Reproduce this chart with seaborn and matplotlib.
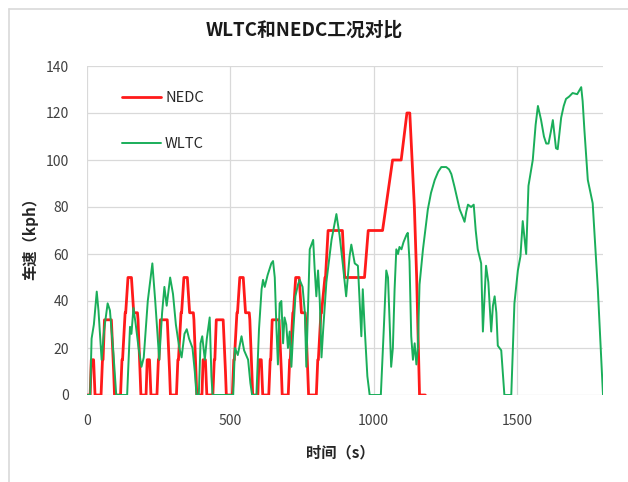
import numpy as np
import pandas as pd
import seaborn as sns
import matplotlib.pyplot as plt
from matplotlib.lines import Line2D

# NEDC: 4 x ECE-15 urban cycles + EUDC, breakpoints (s, km/h)
nedc_t = [
    0, 11, 15, 23, 28, 49, 54, 56, 61, 85, 93, 96, 117, 122, 124, 133, 135, 143, 155, 163, 176, 178, 185, 188,
    195, 206, 210, 218, 223, 244, 249, 251, 256, 280, 288, 291, 312, 317, 319, 328, 330, 338, 350, 358, 371, 373, 380, 383,
    390, 401, 405, 413, 418, 439, 444, 446, 451, 475, 483, 486, 507, 512, 514, 523, 525, 533, 545, 553, 566, 568, 575, 578,
    585, 596, 600, 608, 613, 634, 639, 641, 646, 670, 678, 681, 702, 707, 709, 718, 720, 728, 740, 748, 761, 763, 770, 773,
    780, 800, 805, 807, 816, 818, 830, 832, 841, 891, 899, 968, 981, 1031, 1066, 1096, 1116, 1126, 1142, 1150, 1160, 1180,
]
nedc_v = [
    0, 0, 15, 15, 0, 0, 15, 15, 32, 32, 10, 0, 0, 15, 15, 35, 35, 50, 50, 35, 35, 32, 10, 0,
    0, 0, 15, 15, 0, 0, 15, 15, 32, 32, 10, 0, 0, 15, 15, 35, 35, 50, 50, 35, 35, 32, 10, 0,
    0, 0, 15, 15, 0, 0, 15, 15, 32, 32, 10, 0, 0, 15, 15, 35, 35, 50, 50, 35, 35, 32, 10, 0,
    0, 0, 15, 15, 0, 0, 15, 15, 32, 32, 10, 0, 0, 15, 15, 35, 35, 50, 50, 35, 35, 32, 10, 0,
    0, 0, 15, 15, 35, 35, 50, 50, 70, 70, 50, 50, 70, 70, 100, 100, 120, 120, 80, 50, 0, 0,
]

# WLTC class 3
wltc_t = [
    0, 11, 16, 24, 34, 40, 51, 60, 72, 80, 92, 102, 140, 150, 155, 162, 170, 180, 190, 198, 212, 228, 238, 252,
    262, 270, 278, 290, 300, 310, 322, 330, 340, 348, 356, 368, 376, 382, 390, 396, 402, 411, 418, 428, 434, 438,
    510, 516, 526, 539, 548, 562, 570, 576, 591,
    600, 609, 614, 620, 630, 643, 649, 655, 661, 666, 672, 678, 684, 689, 695, 701, 707, 713, 719, 727, 736, 742,
    752, 760, 765, 777, 789, 794, 800, 806, 812, 818, 824, 835, 853, 870, 881, 893, 904, 916, 922, 934, 945, 951,
    957, 962, 968, 978, 986, 1025,
    1036, 1044, 1050, 1056, 1061, 1067, 1073, 1079, 1085, 1090, 1097, 1104, 1114, 1119, 1125, 1131, 1137, 1143,
    1149, 1154, 1160, 1172, 1189, 1200, 1213, 1225, 1236, 1253, 1263, 1271, 1282, 1300, 1310, 1317, 1323, 1329,
    1340, 1349, 1356, 1363, 1375, 1381, 1388, 1392, 1400, 1410, 1416, 1422, 1428, 1433, 1445, 1456, 1480,
    1491, 1503, 1512, 1520, 1532, 1540, 1555, 1565, 1573, 1584, 1594, 1602, 1610, 1618, 1625, 1636, 1642, 1654,
    1663, 1671, 1682, 1694, 1710, 1724, 1729, 1735, 1747, 1764, 1782, 1800,
]
wltc_v = [
    0, 0, 24, 30, 44, 36, 15, 28, 39, 36, 18, 0, 0, 29, 26, 37, 30, 20, 12, 16, 40, 56, 40, 15,
    35, 46, 38, 50, 43, 30, 20, 16, 26, 28, 24, 20, 10, 0, 0, 22, 25, 15, 24, 33, 8, 0,
    0, 20, 17, 25, 19, 15, 5, 0, 0,
    28, 45, 49, 46, 51, 56, 57, 50, 28, 13, 39, 40, 22, 33, 30, 20, 27, 12, 26, 42, 47, 49,
    46, 35, 12, 62, 66, 54, 42, 53, 40, 16, 28, 48, 66, 77, 68, 55, 42, 59, 64, 56, 55, 40,
    25, 45, 30, 8, 0, 0,
    30, 53, 50, 30, 12, 20, 45, 62, 60, 63, 62, 65, 68, 69, 57, 25, 15, 22,
    13, 20, 47, 62, 79, 86, 91.5, 95, 97, 97, 96, 94, 88.6, 79, 76, 73.7, 78, 81,
    80, 81, 70, 62, 56, 27, 45, 55, 48, 27, 38, 42, 35, 21, 19, 0, 0,
    39, 53, 59, 74, 60, 89, 100, 115, 123, 117, 110, 107, 107, 112, 117, 105, 104.6, 118,
    123, 126, 127, 128.5, 128, 131, 125, 113, 91.5, 81.6, 45, 0,
]

nedc = pd.DataFrame({"time": nedc_t, "speed": nedc_v})
wltc = pd.DataFrame({"time": wltc_t, "speed": wltc_v})

sns.set_style("white")
plt.rcParams["font.family"] = ["Noto Sans CJK SC", "DejaVu Sans"]

fig = plt.figure(figsize=(6.28, 4.82), dpi=100)
ax = fig.add_axes([87 / 628, 1 - 395 / 482, 516 / 628, 329 / 482])

sns.lineplot(data=nedc, x="time", y="speed", ax=ax, color="#FF1A1A", linewidth=2.0,
             estimator=None, sort=False, label="NEDC")
sns.lineplot(data=wltc, x="time", y="speed", ax=ax, color="#1AAE5A", linewidth=1.4,
             estimator=None, sort=False, label="WLTC")

ax.set_xlim(0, 1800)
ax.set_ylim(0, 140)
ax.set_xticks([0, 500, 1000, 1500])
ax.set_yticks(np.arange(0, 141, 20))
ax.grid(True, color="#D9D9D9", linewidth=0.9)
ax.set_axisbelow(True)
for s in ax.spines.values():
    s.set_visible(False)
ax.tick_params(axis="both", length=0, labelsize=10, labelcolor="#404040")
ax.tick_params(axis="x", pad=14)
ax.tick_params(axis="y", pad=13)
ax.set_xlabel("")
ax.set_ylabel("")

ax.legend(loc="upper left", bbox_to_anchor=(0.068, 0.925), frameon=False, fontsize=10.5,
          labelspacing=2.2, handlelength=2.7, handletextpad=0.25, borderpad=0, borderaxespad=0)

fig.text(304 / 628, 1 - 30 / 482, "WLTC和NEDC工况对比", ha="center", va="center",
         fontsize=13.5, fontweight="bold", color="#1a1a1a")
fig.text(340 / 628, 1 - 452 / 482, "时间（s）", ha="center", va="center",
         fontsize=11, fontweight="bold", color="#262626")
fig.text(30 / 628, 1 - 235 / 482, "车速（kph）", ha="center", va="center", rotation=90,
         fontsize=11, fontweight="bold", color="#262626")

# light chart-area frame (left and top edges)
fig.add_artist(Line2D([9 / 628, 9 / 628], [0, 1 - 9 / 482], color="#D9D9D9", linewidth=1.2))
fig.add_artist(Line2D([9 / 628, 1], [1 - 9 / 482, 1 - 9 / 482], color="#D9D9D9", linewidth=1.2))

fig.savefig("out.png", dpi=100)
